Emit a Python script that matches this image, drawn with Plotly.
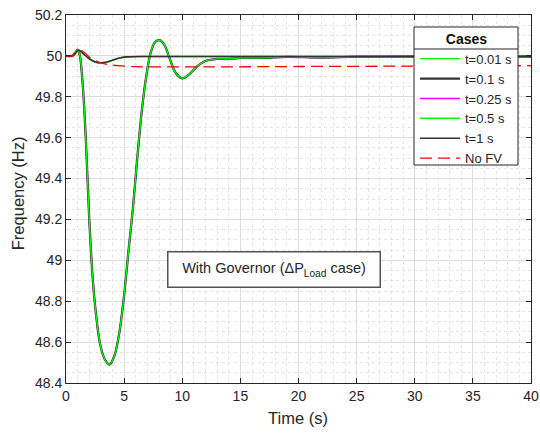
import plotly.graph_objects as go

# Frequency response samples (time in s, frequency in Hz)
t_fast = [0, 0.5, 0.8, 1.0, 1.2, 1.45, 1.7, 2.0, 2.25, 2.5, 2.9, 3.3, 3.75, 4.2, 4.6,
          5.0, 5.4, 5.75, 6.1, 6.5, 6.9, 7.3, 7.7, 8.1, 8.5, 8.9, 9.4, 10.0, 10.6,
          11.3, 12.0, 13.0, 14.0, 15.0, 17.0, 19.0, 22.0, 25.0, 30.0, 40.0]
f_fast = [50.0, 50.0, 50.015, 50.03, 50.0, 49.85, 49.6, 49.2, 48.95, 48.78, 48.6, 48.52,
          48.49, 48.54, 48.65, 48.83, 49.06, 49.25, 49.48, 49.72, 49.9, 50.02, 50.07,
          50.076, 50.05, 49.99, 49.92, 49.89, 49.91, 49.95, 49.975, 49.985, 49.985,
          49.99, 49.99, 49.995, 49.992, 49.996, 49.997, 49.997]

t_slow = [0, 0.6, 0.9, 1.1, 1.5, 2.0, 2.6, 3.2, 3.8, 4.5, 5.2, 6.5, 10.0, 20.0, 40.0]
f_slow_05 = [50.0, 50.0, 50.02, 50.028, 50.01, 49.985, 49.968, 49.965, 49.974, 49.987,
             49.994, 49.997, 49.997, 49.997, 49.997]
f_slow_1 = [50.0, 50.0, 50.02, 50.028, 50.01, 49.986, 49.969, 49.967, 49.975, 49.988,
            49.995, 49.997, 49.997, 49.997, 49.997]

t_nofv = [0, 0.6, 0.9, 1.1, 1.5, 2.0, 2.6, 3.2, 4.0, 5.0, 6.0, 8.0, 12.0, 20.0, 30.0, 40.0]
f_nofv = [50.0, 50.0, 50.02, 50.03, 50.02, 49.995, 49.975, 49.962, 49.955, 49.95,
          49.947, 49.946, 49.946, 49.948, 49.95, 49.952]

case_names = ["t=0.01 s", "t=0.1 s", "t=0.25 s", "t=0.5 s", "t=1 s", "No FV"]

x_ticks = [0, 5, 10, 15, 20, 25, 30, 35, 40]
y_ticks = [48.4, 48.6, 48.8, 49.0, 49.2, 49.4, 49.6, 49.8, 50.0, 50.2]
y_tick_text = ["48.4", "48.6", "48.8", "49", "49.2", "49.4", "49.6", "49.8", "50", "50.2"]

GREEN = "#00FF00"
DARK = "#333333"
MAGENTA = "#FF00FF"
RED = "#FF0000"
AX = "#262626"
FONT = "Liberation Sans, Arial"

# plot-area geometry in pixels, used to place the legend frame
L, T, W, H = 66, 15, 465, 368


def px_x(px):
    return (px - L) / W


def px_y(py):
    return 1 - (py - T) / H


fig = go.Figure()

# drawing order differs from legend order so the overlapping curves stack as intended
traces = [
    (2, t_fast, f_fast, MAGENTA, 1.5, "solid"),
    (1, t_fast, f_fast, DARK, 2.3, "solid"),
    (0, t_fast, f_fast, GREEN, 1.3, "solid"),
    (3, t_slow, f_slow_05, GREEN, 1.5, "solid"),
    (4, t_slow, f_slow_1, DARK, 1.6, "solid"),
    (5, t_nofv, f_nofv, RED, 1.3, "12px,6px"),
]
for idx, tx, fy, col, w, dash in traces:
    fig.add_trace(go.Scatter(
        x=tx, y=fy, mode="lines", name=case_names[idx], legendrank=idx + 1,
        line=dict(color=col, width=w, dash=dash, shape="spline", smoothing=0.8),
    ))

axis_common = dict(
    showline=True, linecolor=AX, linewidth=1, mirror="ticks",
    ticks="inside", ticklen=5, tickcolor=AX, zeroline=False, automargin=False,
    showgrid=True, gridcolor="#DEDEDE", gridwidth=1,
    tickfont=dict(family=FONT, size=14, color=AX),
)

fig.update_xaxes(
    range=[0, 40], tickvals=x_ticks, ticktext=[str(v) for v in x_ticks],
    minor=dict(dtick=1, showgrid=True, gridcolor="#E4E4E4", griddash="dot", gridwidth=1, ticks=""),
    **axis_common,
)
fig.update_yaxes(
    range=[48.4, 50.2], tickvals=y_ticks, ticktext=y_tick_text,
    minor=dict(dtick=0.05, showgrid=True, gridcolor="#E4E4E4", griddash="dot", gridwidth=1, ticks=""),
    **axis_common,
)

# axis titles
fig.add_annotation(
    x=0.499, y=-0.095, xref="paper", yref="paper", showarrow=False,
    text="Time (s)", font=dict(family=FONT, size=16.5, color=AX),
    xanchor="center", yanchor="middle",
)
fig.add_annotation(
    x=-0.103, y=0.516, xref="paper", yref="paper", showarrow=False,
    text="Frequency (Hz)", textangle=-90, font=dict(family=FONT, size=16.5, color=AX),
    xanchor="center", yanchor="middle",
)

# text box inside the axes
fig.add_annotation(
    x=17.85, y=48.956, xref="x", yref="y", showarrow=False,
    text="With Governor (ΔP<sub>Load</sub> case)",
    font=dict(family=FONT, size=14.5, color=AX),
    bgcolor="white", bordercolor="#555555", borderwidth=1.5, borderpad=6,
    width=199, height=22,
)

# legend frame: white box with a rule under the title
fig.add_shape(
    type="rect", xref="paper", yref="paper", layer="above",
    x0=px_x(414), x1=px_x(518), y0=px_y(165), y1=px_y(27),
    fillcolor="white", line=dict(color=AX, width=1),
)
fig.add_shape(
    type="line", xref="paper", yref="paper", layer="above",
    x0=px_x(414), x1=px_x(518), y0=px_y(49), y1=px_y(49),
    line=dict(color=AX, width=1),
)

fig.update_layout(
    width=540, height=436,
    margin=dict(l=66, r=9, t=15, b=53),
    paper_bgcolor="white", plot_bgcolor="white",
    legend=dict(
        x=px_x(518), y=px_y(25.5), xanchor="right", yanchor="top",
        bgcolor="rgba(0,0,0,0)", borderwidth=0,
        font=dict(family=FONT, size=13, color=AX),
        title=dict(text="<b>Cases</b>", side="top center",
                   font=dict(family=FONT, size=14, color="#111111")),
        tracegroupgap=0, itemwidth=40,
    ),
    showlegend=True,
)

fig.write_html("out.html")
